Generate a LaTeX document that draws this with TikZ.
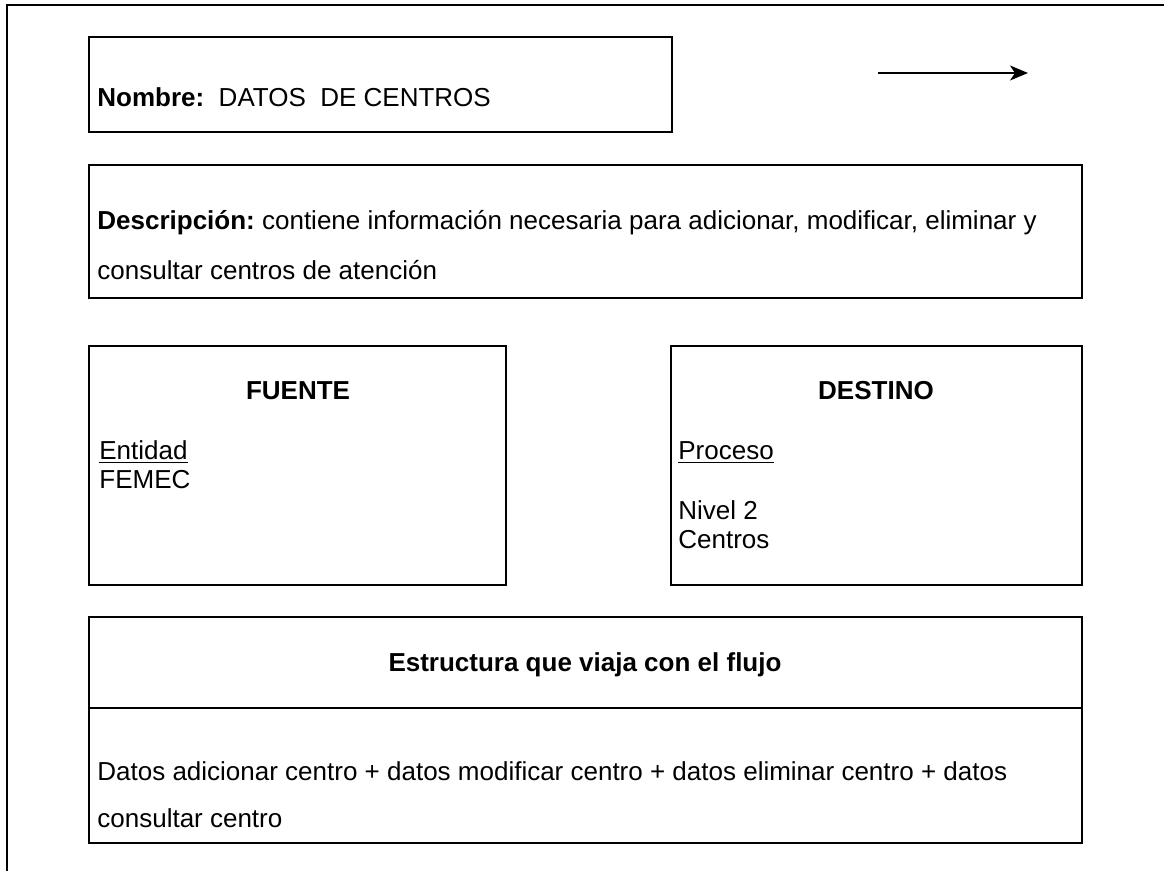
\documentclass[tikz,border=0pt]{standalone}
\usepackage{fontspec}
\setmainfont{Liberation Sans}
\usetikzlibrary{arrows.meta}
\frenchspacing
\newcommand{\subrayado}[1]{\setbox0\hbox{#1}\rlap{\rule[-1.4pt]{\wd0}{0.6pt}}\box0}
\begin{document}
\begin{tikzpicture}[x=0.5pt,y=-0.5pt,
  box/.style={draw,line width=1.4pt},
  txt/.style={anchor=base west,inner sep=0pt,font=\fontsize{13}{15}\selectfont},
  head/.style={anchor=base,inner sep=0pt,font=\fontsize{13}{15}\selectfont\bfseries}]
\useasboundingbox (0,0) rectangle (1164,871);
% frame
\draw[line width=1.2pt] (7,871) -- (7,5) -- (1164,5);
% nombre
\draw[box] (89,37) rectangle (672,132);
\node[txt] (nombre) at (97,107) {\textbf{Nombre:}\ \ DATOS\ \ DE CENTROS};
\coordinate (flujoa) at (878,73);
\coordinate (flujob) at (1028,73);
\draw[line width=0.8pt,-{Stealth[length=9pt,width=7.5pt,inset=2.5pt]}] (flujoa) -- (flujob);
% descripcion
\draw[box] (89,165) rectangle (1082,298);
\node[txt] (desc1) at (97,230) {\textbf{Descripción:} contiene información necesaria para adicionar, modificar, eliminar y};
\node[txt] (desc2) at (97,280) {consultar centros de atención};
% fuente
\draw[box] (89,346) rectangle (506,585);
\node[head] (fuente) at (298,400) {FUENTE};
\node[txt] (entidad) at (99,460) {\subrayado{Entidad}};
\node[txt] (femec) at (99,489) {FEMEC};
% destino
\draw[box] (671,346) rectangle (1082,585);
\node[head] (destino) at (876,400) {DESTINO};
\node[txt] (proceso) at (678,460) {\subrayado{Proceso}};
\node[txt] (nivel) at (678,520) {Nivel 2};
\node[txt] (centros) at (678,549) {Centros};
% estructura
\draw[box] (89,617) rectangle (1082,843);
\draw[box] (89,708) -- (1082,708);
\node[head] (estr) at (585,672) {Estructura que viaja con el flujo};
\node[txt] (datos1) at (97,781) {Datos adicionar centro + datos modificar centro + datos eliminar centro + datos};
\node[txt] (datos2) at (97,828) {consultar centro};
\end{tikzpicture}
\end{document}
